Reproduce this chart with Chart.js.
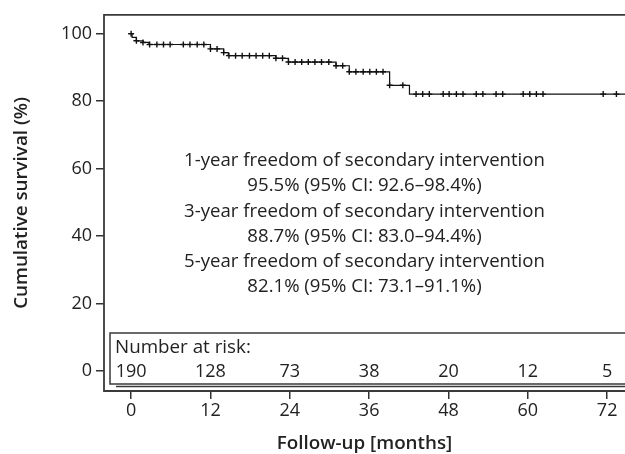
<!DOCTYPE html>
<html><head><meta charset="utf-8">
<script src="https://cdn.jsdelivr.net/npm/chart.js@4/dist/chart.umd.min.js"></script>
<style>html,body{margin:0;padding:0;background:#fff;overflow:hidden}</style>
</head><body>
<canvas id="c" width="625" height="454"></canvas>
<script>
// ---- data ----
const stepTimes    = [0, 0.15, 0.8, 1.8, 2.7, 12.0, 14.0, 14.7, 21.9, 23.8, 31.0, 33.0, 39.1, 42.1, 74.7];
const stepSurvival = [100, 98.9, 97.9, 97.4, 96.8, 95.5, 94.4, 93.5, 92.7, 91.6, 90.5, 88.7, 84.7, 82.1, 82.1];
const censorTimes  = [0, 0.8, 1.8, 2.8, 3.9, 4.9, 5.9, 7.9, 8.9, 10.0, 11.0, 12.0, 13.0, 14.0, 14.8, 15.8, 16.8,
  17.9, 18.9, 19.9, 20.9, 21.9, 22.9, 23.8, 24.8, 25.8, 26.8, 27.8, 28.8, 29.9, 31.0, 32.0, 33.0, 34.0, 35.1,
  36.1, 37.1, 38.1, 39.1, 41.1, 43.1, 44.1, 45.1, 47.2, 48.1, 49.2, 50.2, 52.2, 53.2, 55.2, 56.2, 59.3, 60.3,
  61.3, 62.3, 71.4, 73.4];
const xTicks = [0, 12, 24, 36, 48, 60, 72];
const yTicks = [0, 20, 40, 60, 80, 100];
const riskTimes   = [0, 12, 24, 36, 48, 60, 72];
const riskNumbers = [190, 128, 73, 38, 20, 12, 5];
const annotationLines = [
  '1-year freedom of secondary intervention',
  '95.5% (95% CI: 92.6\u201398.4%)',
  '3-year freedom of secondary intervention',
  '88.7% (95% CI: 83.0\u201394.4%)',
  '5-year freedom of secondary intervention',
  '82.1% (95% CI: 73.1\u201391.1%)'
];

function survAt(t) {
  let v = stepSurvival[0];
  for (let i = 0; i < stepTimes.length; i++) if (stepTimes[i] <= t + 1e-9) v = stepSurvival[i];
  return v;
}

const FONT = '"Open Sans"';
const TXT = '#222';
Chart.defaults.font.family = FONT;
Chart.defaults.color = TXT;

const framePlugin = {
  id: 'frame',
  afterDatasetsDraw(chart) {
    const {ctx, chartArea: a, scales} = chart;
    ctx.save();
    ctx.strokeStyle = '#3a3a3a';
    ctx.lineWidth = 1.8;
    ctx.beginPath();
    ctx.moveTo(640, a.top); ctx.lineTo(a.left, a.top); ctx.lineTo(a.left, a.bottom); ctx.lineTo(640, a.bottom);
    ctx.stroke();

    // number-at-risk box
    const bx = a.left + 6, by = 333, bh = 51;
    ctx.fillStyle = '#fff';
    ctx.fillRect(bx, by, 640 - bx, bh);
    ctx.strokeStyle = '#3a3a3a';
    ctx.lineWidth = 1.5;
    ctx.strokeRect(bx, by, 640 - bx, bh);
    ctx.beginPath(); ctx.moveTo(bx + 6, by + bh + 2.5); ctx.lineTo(640, by + bh + 2.5); ctx.stroke();

    ctx.fillStyle = TXT;
    ctx.font = '18.8px ' + FONT;
    ctx.textBaseline = 'middle';
    ctx.textAlign = 'left';
    ctx.fillText('Number at risk:', bx + 5, 348);
    ctx.font = '18px ' + FONT;
    ctx.textAlign = 'center';
    riskTimes.forEach((t, i) => {
      ctx.fillText(String(riskNumbers[i]), scales.x.getPixelForValue(t), 372);
    });

    // annotation
    ctx.font = '18.6px ' + FONT;
    const cx = (a.left + 625) / 2;
    annotationLines.forEach((s, i) => {
      ctx.fillText(s, cx, 161 + i * 25.2);
    });
    ctx.restore();
  }
};

new Chart(document.getElementById('c'), {
  type: 'line',
  data: {
    datasets: [
      {
        data: stepTimes.map((t, i) => ({x: t, y: stepSurvival[i]})),
        stepped: 'before', borderColor: '#111', borderWidth: 1.2, pointRadius: 0, fill: false
      },
      {
        data: censorTimes.map(t => ({x: t, y: survAt(t)})),
        showLine: false, pointStyle: 'cross', pointRadius: 3, borderColor: '#111', borderWidth: 1.4,
        backgroundColor: '#111'
      }
    ]
  },
  options: {
    responsive: false, animation: false, devicePixelRatio: 1,
    layout: {autoPadding: false, padding: {top: 13, left: 0, right: 0, bottom: 0}},
    plugins: {legend: {display: false}, tooltip: {enabled: false}},
    scales: {
      x: {
        type: 'linear', min: -4.1, max: 74.7,
        afterBuildTicks: s => { s.ticks = xTicks.map(v => ({value: v})); },
        afterFit: s => { s.height = 63; },
        grid: {drawOnChartArea: false, tickLength: 8, color: '#333', lineWidth: 1.5},
        border: {display: false},
        ticks: {font: {size: 18}, padding: 1, maxRotation: 0, autoSkip: false, color: TXT},
        title: {display: true, text: 'Follow-up [months]', font: {size: 18.8, weight: '600'}, padding: {top: 0, bottom: -1}, color: TXT}
      },
      y: {
        type: 'linear', min: -5.9, max: 105.6,
        afterBuildTicks: s => { s.ticks = yTicks.map(v => ({value: v})); },
        afterFit: s => { s.width = 104; },
        grid: {drawOnChartArea: false, tickLength: 8, color: '#333', lineWidth: 1.5},
        border: {display: false},
        ticks: {font: {size: 18}, padding: 4, autoSkip: false, color: TXT},
        title: {display: true, text: 'Cumulative survival (%)', font: {size: 18.8, weight: '600'}, padding: {top: 10, bottom: 0}, color: TXT}
      }
    }
  },
  plugins: [framePlugin]
});
</script>
</body></html>
